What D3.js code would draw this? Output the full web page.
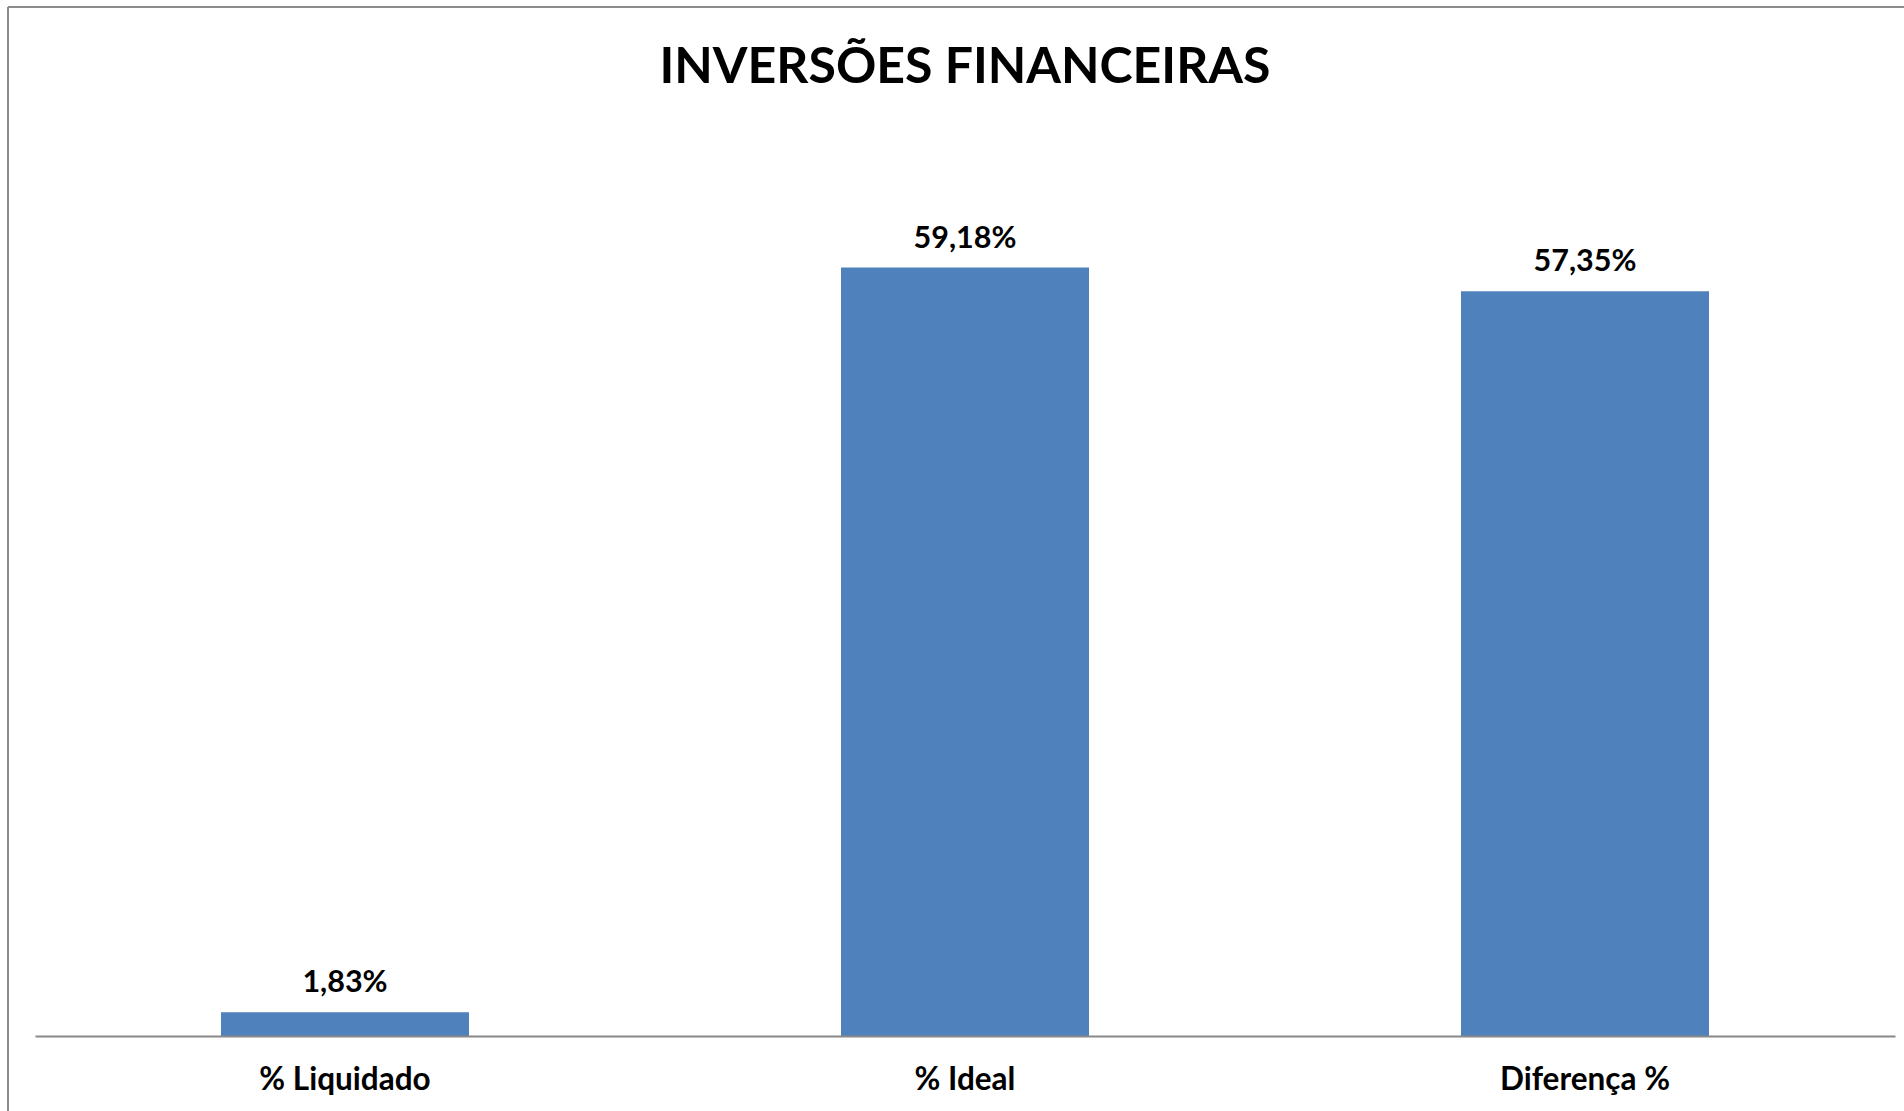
<!DOCTYPE html>
<html>
<head>
<meta charset="utf-8">
<script src="https://cdn.jsdelivr.net/npm/d3@7"></script>
<style>
  html, body { margin: 0; padding: 0; background: #fff; }
  svg { display: block; }
  text { font-family: Lato, "Open Sans", sans-serif; font-weight: bold; fill: #000; }
</style>
</head>
<body>
<svg id="chart" width="1904" height="1111"></svg>
<script>
const title = "INVERSÕES FINANCEIRAS";
const categories = ["% Liquidado", "% Ideal", "Diferença %"];
const values = [1.83, 59.18, 57.35];
const valueLabels = ["1,83%", "59,18%", "57,35%"];
const yDomain = [0, 70];

const W = 1904, H = 1111;
const svg = d3.select("#chart");

// outer frame (only top and left edges visible in reference)
svg.append("line").attr("x1", 8).attr("x2", W).attr("y1", 7).attr("y2", 7)
  .attr("stroke", "#8c8c8c").attr("stroke-width", 2);
svg.append("line").attr("x1", 8).attr("x2", 8).attr("y1", 7).attr("y2", H)
  .attr("stroke", "#8c8c8c").attr("stroke-width", 2);

const x = d3.scaleBand().domain(categories).range([35, 1895])
  .paddingInner(0.6).paddingOuter(0.3);
const y = d3.scaleLinear().domain(yDomain).range([1036, 127]);

svg.append("text").attr("x", 965).attr("y", 83).attr("text-anchor", "middle")
  .style("font-size", "50px").text(title);

svg.selectAll("rect.bar").data(values).enter().append("rect")
  .attr("class", "bar")
  .attr("x", (d, i) => x(categories[i]))
  .attr("width", x.bandwidth())
  .attr("y", d => y(d))
  .attr("height", d => y(0) - y(d))
  .attr("fill", "#4F81BD");

svg.selectAll("text.val").data(values).enter().append("text")
  .attr("class", "val")
  .attr("x", (d, i) => x(categories[i]) + x.bandwidth() / 2)
  .attr("y", d => y(d) - 20)
  .attr("text-anchor", "middle")
  .style("font-size", "30.5px")
  .text((d, i) => valueLabels[i]);

const axis = d3.axisBottom(x).tickSize(0).tickPadding(0);
const g = svg.append("g").attr("transform", `translate(0,${y(0)})`).call(axis);
g.select(".domain").attr("stroke", "#888").attr("stroke-width", 2);
g.selectAll(".tick text")
  .attr("dy", null).attr("y", 54)
  .style("font-size", "31.5px").style("font-family", "Lato, sans-serif").style("font-weight", "bold").attr("fill", "#000");
</script>
</body>
</html>
